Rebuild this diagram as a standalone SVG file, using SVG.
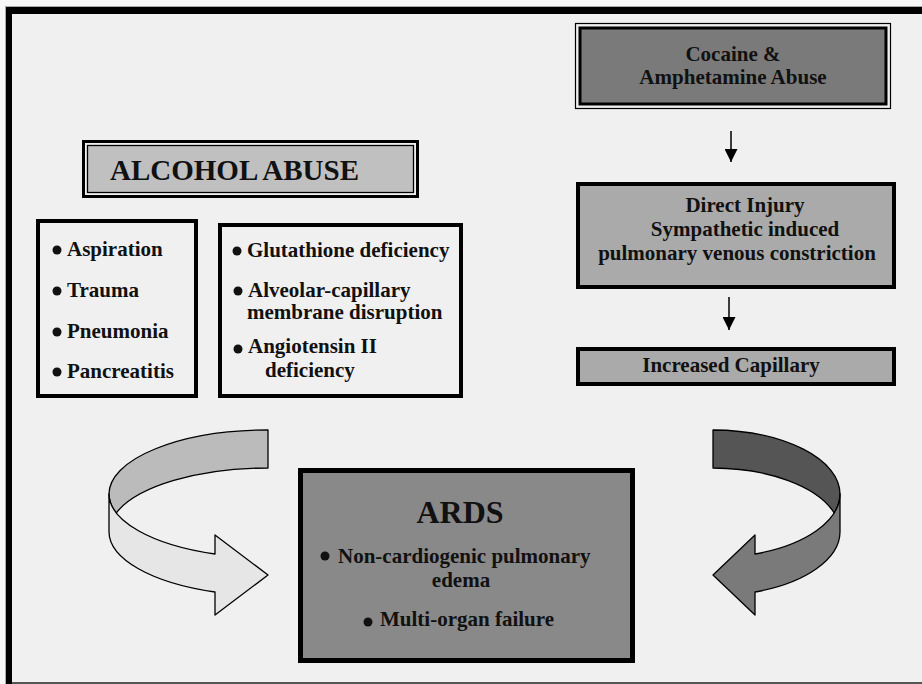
<svg xmlns="http://www.w3.org/2000/svg" width="922" height="684" viewBox="0 0 922 684">
  <style>
    text { font-family: "Liberation Serif", "Times New Roman", serif; font-weight: bold; fill: #111; }
    .list { font-size: 21px; }
    .mid { text-anchor: middle; }
    .bullet { fill: #111; }
    .box { stroke: #000; stroke-width: 4; }
    .ribbon { stroke: #000; stroke-width: 1.3; stroke-linejoin: round; }
  </style>
  <defs>
    <marker id="head" viewBox="0 0 10 10" refX="10" refY="5" markerWidth="13" markerHeight="13" markerUnits="userSpaceOnUse" orient="auto">
      <path d="M0,0 L10,5 L0,10 Z" fill="#000"/>
    </marker>
  </defs>

  <!-- page frame -->
  <g id="frame">
    <rect x="0" y="0" width="922" height="684" fill="#f7f7f7"/>
    <rect x="12" y="14" width="910" height="668" fill="#f0f0f0"/>
    <rect x="5" y="6" width="917" height="1" fill="#aaa"/>
    <rect x="5" y="6" width="1" height="678" fill="#aaa"/>
    <rect x="6" y="7" width="916" height="7" fill="#000"/>
    <rect x="6" y="7" width="6" height="677" fill="#000"/>
    <rect x="12" y="682" width="910" height="2" fill="#555"/>
  </g>

  <!-- stimulant branch -->
  <g id="cocaine">
    <rect x="575.5" y="23.5" width="315" height="85" fill="#f0f0f0" stroke="#000" stroke-width="1.2"/>
    <rect x="580" y="28" width="306" height="76" fill="#7a7a7a" stroke="#000" stroke-width="3"/>
    <text class="mid" x="733" y="61" font-size="21">Cocaine &amp;</text>
    <text class="mid" x="733" y="84" font-size="21">Amphetamine Abuse</text>
  </g>

  <g id="direct-injury">
    <rect class="box" x="578" y="184" width="316" height="103" fill="#aaaaaa"/>
    <text class="mid list" x="745" y="212">Direct Injury</text>
    <text class="mid list" x="745" y="236">Sympathetic induced</text>
    <text class="mid list" x="737" y="260">pulmonary venous constriction</text>
  </g>

  <g id="increased-capillary">
    <rect class="box" x="578" y="349" width="316" height="35" fill="#aaaaaa"/>
    <text class="mid list" x="731" y="372">Increased Capillary</text>
  </g>

  <!-- alcohol branch -->
  <g id="alcohol">
    <rect x="83.5" y="141.5" width="334" height="55" fill="#f0f0f0" stroke="#000" stroke-width="3"/>
    <rect x="87.5" y="145.5" width="326" height="47" fill="#c0c0c0" stroke="#000" stroke-width="1.3"/>
    <text x="110" y="180" font-size="29">ALCOHOL ABUSE</text>
  </g>

  <g id="alcohol-causes">
    <rect class="box" x="38" y="221" width="158" height="175" fill="#f0f0f0"/>
    <circle class="bullet" cx="57" cy="250" r="4.5"/>
    <text class="list" x="67" y="256">Aspiration</text>
    <circle class="bullet" cx="57" cy="291" r="4.5"/>
    <text class="list" x="67" y="297">Trauma</text>
    <circle class="bullet" cx="57" cy="332" r="4.5"/>
    <text class="list" x="67" y="338">Pneumonia</text>
    <circle class="bullet" cx="57" cy="372" r="4.5"/>
    <text class="list" x="67" y="378">Pancreatitis</text>
  </g>

  <g id="alcohol-mechanisms">
    <rect class="box" x="220" y="225" width="241" height="171" fill="#f0f0f0"/>
    <circle class="bullet" cx="237" cy="251" r="4.5"/>
    <text class="list" x="247" y="257">Glutathione deficiency</text>
    <circle class="bullet" cx="238" cy="291" r="4.5"/>
    <text class="list" x="248" y="297">Alveolar-capillary</text>
    <text class="list" x="247" y="319">membrane disruption</text>
    <circle class="bullet" cx="238" cy="349" r="4.5"/>
    <text class="list" x="248" y="353">Angiotensin II</text>
    <text class="list" x="265" y="377">deficiency</text>
  </g>

  <!-- outcome -->
  <g id="ards">
    <rect x="300.5" y="470.5" width="332" height="190" fill="#898989" stroke="#000" stroke-width="5"/>
    <text class="mid" x="460" y="523" font-size="32">ARDS</text>
    <circle class="bullet" cx="325" cy="556" r="4.5"/>
    <text class="list" x="338" y="563">Non-cardiogenic pulmonary</text>
    <text class="mid list" x="461" y="587">edema</text>
    <circle class="bullet" cx="368" cy="622" r="4.5"/>
    <text class="list" x="380" y="626">Multi-organ failure</text>
  </g>

  <g id="connectors">
    <line x1="731" y1="131" x2="731" y2="162" stroke="#000" stroke-width="1.5" marker-end="url(#head)"/>
    <line x1="729" y1="297" x2="729" y2="330" stroke="#000" stroke-width="1.5" marker-end="url(#head)"/>

    <!-- curved ribbon arrow from the alcohol side -->
    <path class="ribbon" fill="#bbbbbb" d="M268,430 A159,64 0 0 0 109,494 A159,64 0 0 0 116.2,513 A159,64 0 0 1 268,468 Z"/>
    <path class="ribbon" fill="#e6e6e6" d="M109,494 A159,64 0 0 0 215,554 L215,535 L268,575 L215,615 L215,592 A159,64 0 0 1 109,532 Z"/>

    <!-- curved ribbon arrow from the stimulant side -->
    <path class="ribbon" fill="#555555" d="M713,430 A128,64 0 0 1 840,494 A128,64 0 0 1 834.2,513 A128,64 0 0 0 713,468 Z"/>
    <path class="ribbon" fill="#7a7a7a" d="M840,494 A128,64 0 0 1 755,554 L755,535 L713,575 L755,615 L755,592 A128,64 0 0 0 840,532 Z"/>
  </g>
</svg>
